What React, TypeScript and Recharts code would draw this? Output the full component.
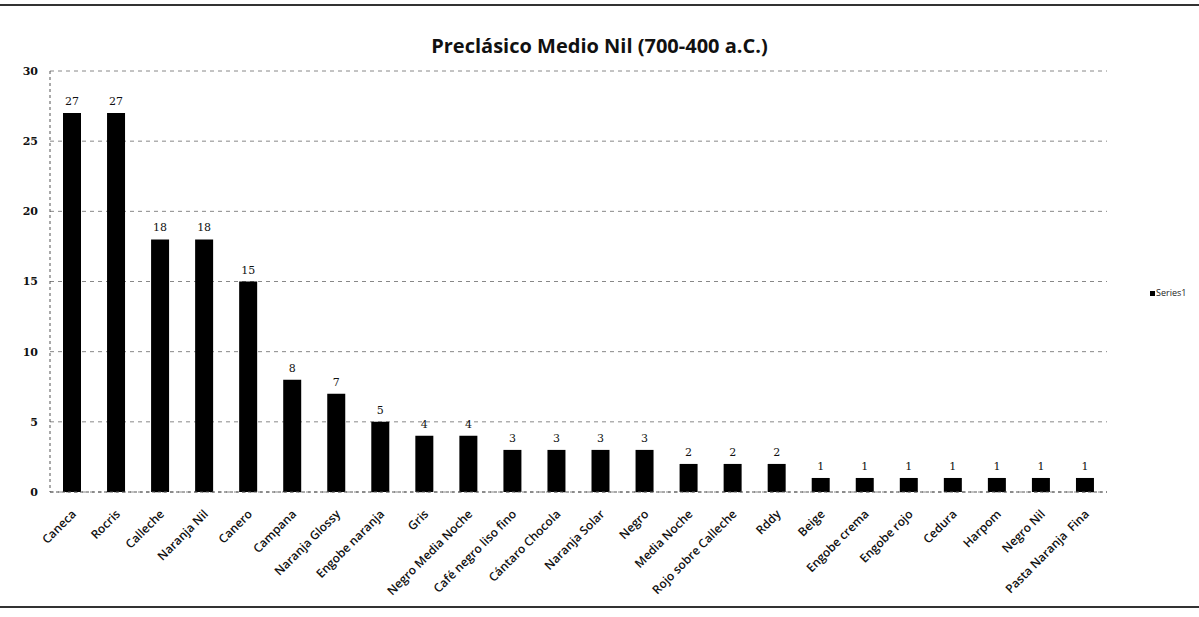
import { BarChart, Bar, XAxis, YAxis, CartesianGrid, LabelList } from "recharts";

const categories = [
  "Caneca", "Rocris", "Calleche", "Naranja Nil", "Canero", "Campana",
  "Naranja Glossy", "Engobe naranja", "Gris", "Negro Media Noche",
  "Café negro liso fino", "Cántaro Chocola", "Naranja Solar", "Negro",
  "Media Noche", "Rojo sobre Calleche", "Rddy", "Beige", "Engobe crema",
  "Engobe rojo", "Cedura", "Harpom", "Negro Nil", "Pasta Naranja  Fina",
];
const series1 = [27, 27, 18, 18, 15, 8, 7, 5, 4, 4, 3, 3, 3, 3, 2, 2, 2, 1, 1, 1, 1, 1, 1, 1];
const yTicks = [0, 5, 10, 15, 20, 25, 30];

const data = categories.map((name, i) => ({ name, Series1: series1[i] }));

function AngledTick(props: any) {
  const { x, y, payload } = props;
  return (
    <g transform={`translate(${x + 2},${y + 12})`}>
      <text
        transform="rotate(-45)"
        textAnchor="end"
        fontSize={12}
        fontWeight={600}
        fill="#111"
        fontFamily="Open Sans"
        dy={4}
        style={{ whiteSpace: "pre" }}
      >
        {payload.value}
      </text>
    </g>
  );
}

export default function App() {
  return (
    <div style={{ position: "absolute", top: 0, left: 0, width: 1199, height: 617, background: "#fff" }}>
      <div style={{ position: "absolute", top: 4, left: 0, width: 1199, borderTop: "2px solid #333" }} />
      <div style={{ position: "absolute", top: 606, left: 0, width: 1199, borderTop: "2px solid #333" }} />
      <div
        style={{
          position: "absolute", top: 32, width: 1199, textAlign: "center",
          fontFamily: "Open Sans", fontWeight: 700, fontSize: 20, color: "#111",
        }}
      >
        Preclásico Medio Nil (700-400 a.C.)
      </div>
      <div
        style={{
          position: "absolute", top: 286, left: 1150, fontSize: 9,
          fontFamily: "Open Sans", color: "#222",
        }}
      >
        <span style={{ display: "inline-block", width: 5, height: 5, background: "#000", marginRight: 1 }} />
        Series1
      </div>
      <BarChart
        width={1199}
        height={617}
        data={data}
        margin={{ top: 71, right: 92, left: 16, bottom: 15 }}
        style={{ position: "absolute", top: 0, left: 0 }}
      >
        <CartesianGrid vertical={false} strokeDasharray="4 4" stroke="#888" />
        <XAxis
          dataKey="name"
          interval={0}
          height={110}
          tick={<AngledTick />}
          tickLine={false}
          axisLine={{ stroke: "#555", strokeDasharray: "3 3" }}
        />
        <YAxis
          domain={[0, 30]}
          ticks={yTicks}
          width={34}
          tick={{ fontSize: 11, fill: "#111", fontFamily: "DejaVu Serif", fontWeight: 700 }}
          tickLine={false}
          tickMargin={6}
          axisLine={{ stroke: "#555", strokeDasharray: "3 3" }}
        />
        <Bar dataKey="Series1" fill="#000" barSize={18} isAnimationActive={false}>
          <LabelList dataKey="Series1" position="top" offset={8} fontSize={11} fill="#111" fontFamily="DejaVu Serif" />
        </Bar>
      </BarChart>
    </div>
  );
}
